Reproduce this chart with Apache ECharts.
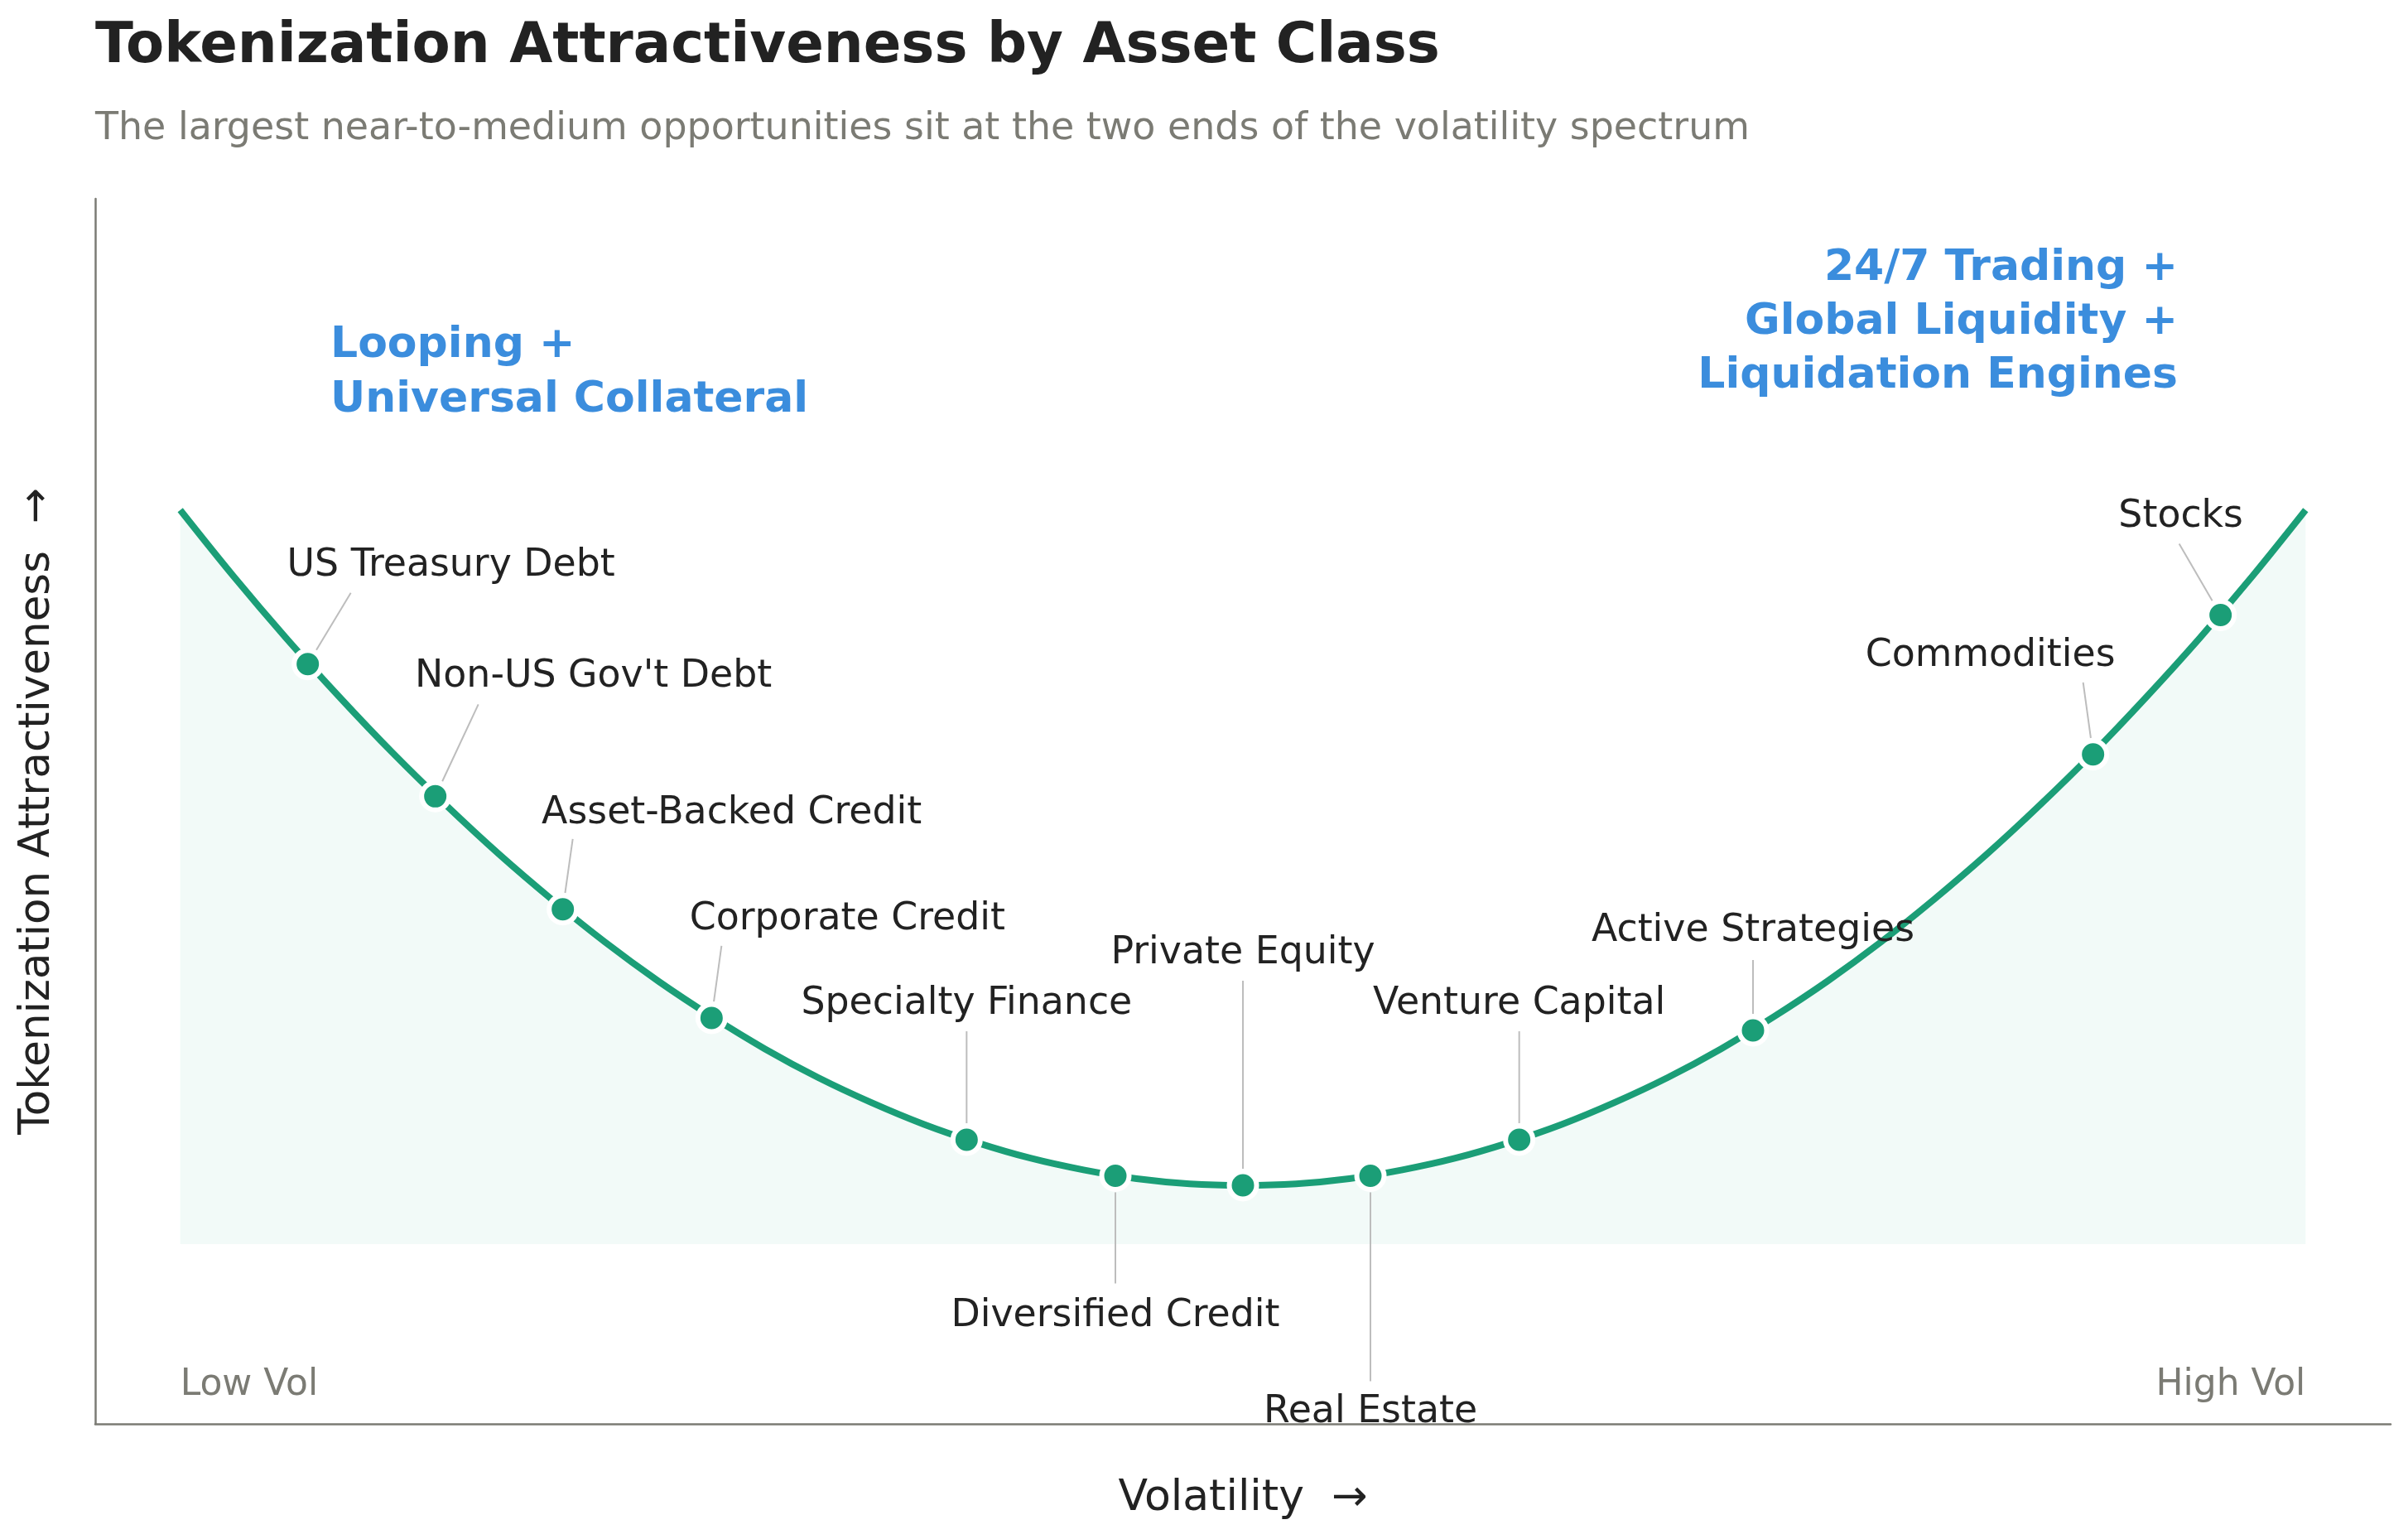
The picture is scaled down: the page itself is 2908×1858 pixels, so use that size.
<!DOCTYPE html>
<html>
<head>
<meta charset="utf-8">
<title>Tokenization Attractiveness by Asset Class</title>
<script src="https://cdn.jsdelivr.net/npm/echarts@6.0.0/dist/echarts.min.js"></script>
<style>
  html, body { margin: 0; padding: 0; background: #fff; }
  #chart { width: 2908px; height: 1858px; }
</style>
</head>
<body>
<div id="chart"></div>
<script>
// asset classes along the volatility spectrum (x 0..1 = low..high vol)
const assetNames = [
  'US Treasury Debt', "Non-US Gov't Debt", 'Asset-Backed Credit', 'Corporate Credit',
  'Specialty Finance', 'Diversified Credit', 'Private Equity', 'Real Estate',
  'Venture Capital', 'Active Strategies', 'Commodities', 'Stocks'
]
const assetVol = [0.06, 0.12, 0.18, 0.25, 0.37, 0.44, 0.50, 0.56, 0.63, 0.74, 0.90, 0.96]
const assetScore = [0.790, 0.610, 0.456, 0.308, 0.142, 0.093, 0.080, 0.093, 0.142, 0.291, 0.667, 0.857]

// the U-shaped curve, every 0.025
const curveVol = [
  0, 0.025, 0.05, 0.075, 0.10, 0.125, 0.15, 0.175, 0.20, 0.225, 0.25, 0.275, 0.30, 0.325,
  0.35, 0.375, 0.40, 0.425, 0.45, 0.475, 0.50, 0.525, 0.55, 0.575, 0.60, 0.625, 0.65, 0.675,
  0.70, 0.725, 0.75, 0.775, 0.80, 0.825, 0.85, 0.875, 0.90, 0.925, 0.95, 0.975, 1.00
]
const curveScore = [
  1.000, 0.910, 0.825, 0.745, 0.669, 0.598, 0.531, 0.469, 0.411, 0.358, 0.310, 0.266, 0.227, 0.193,
  0.163, 0.138, 0.117, 0.101, 0.089, 0.082, 0.080, 0.082, 0.089, 0.101, 0.117, 0.138, 0.163, 0.193,
  0.227, 0.266, 0.310, 0.358, 0.411, 0.469, 0.531, 0.598, 0.669, 0.745, 0.825, 0.910, 1.000
]

const endLabels = ['Low Vol', 'High Vol']
const endVol = [0, 1]

// layout only: [text dx, text dy, leader end dx, leader end dy] in px from the dot
const labelOffsets = [
  [173, -119, 52, -86], [191, -144, 52, -111], [204, -116, 12, -85], [164, -119, 12, -87],
  [0, -164, 0, -131], [0, 170, 0, 130], [0, -280, 0, -247], [0, 286, 0, 248],
  [0, -164, 0, -131], [0, -120, 0, -85], [-124, -119, -12, -87], [-48, -118, -50, -86]
]
const endLabelLevel = -0.193

const FONT = '"DejaVu Sans", sans-serif'
const GREEN = '#1b9e77'
const BLUE = '#3b8ddd'
const GREY = '#7b7b74'

let myChart = echarts.init(document.getElementById('chart'), null, { renderer: 'canvas' })

let option = {
  backgroundColor: '#ffffff',
  animation: false,
  title: [
    {
      text: 'Tokenization Attractiveness by Asset Class',
      left: 115, top: 24, padding: 0,
      textStyle: { fontFamily: FONT, fontSize: 67.3, lineHeight: 67.3, fontWeight: 'bold', color: '#222222' }
    },
    {
      text: 'The largest near-to-medium opportunities sit at the two ends of the volatility spectrum',
      left: 115, top: 133, padding: 0,
      textStyle: { fontFamily: FONT, fontSize: 45.9, lineHeight: 45.9, fontWeight: 'normal', color: GREY }
    }
  ],
  graphic: [
    {
      type: 'text', x: 399, y: 385, z: 10,
      style: {
        text: 'Looping +\nUniversal Collateral',
        fill: BLUE, font: 'bold 52px ' + FONT, lineHeight: 65.5,
        align: 'left', verticalAlign: 'top', textAlign: 'left', textVerticalAlign: 'top'
      }
    },
    {
      type: 'text', x: 2630, y: 292, z: 10,
      style: {
        text: '24/7 Trading +\nGlobal Liquidity +\nLiquidation Engines',
        fill: BLUE, font: 'bold 52px ' + FONT, lineHeight: 65,
        align: 'right', verticalAlign: 'top', textAlign: 'right', textVerticalAlign: 'top'
      }
    }
  ],
  grid: { left: 115, right: 21, top: 240, bottom: 139, containLabel: false },
  xAxis: {
    type: 'value', min: -0.04, max: 1.04,
    name: 'Volatility  \u2192', nameLocation: 'middle', nameGap: 64,
    nameTextStyle: { fontFamily: FONT, fontSize: 52, color: '#222222' },
    axisLine: { show: true, onZero: false, lineStyle: { color: GREY, width: 2.5 } },
    axisTick: { show: false }, axisLabel: { show: false }, splitLine: { show: false }
  },
  yAxis: {
    type: 'value', min: -0.245, max: 1.424,
    name: 'Tokenization Attractiveness  \u2192', nameLocation: 'middle', nameGap: 43, nameRotate: 90,
    nameTextStyle: { fontFamily: FONT, fontSize: 51.5, color: '#222222' },
    axisLine: { show: true, onZero: false, lineStyle: { color: GREY, width: 2.5 } },
    axisTick: { show: false }, axisLabel: { show: false }, splitLine: { show: false }
  },
  series: [
    {
      type: 'line', name: 'curve',
      data: curveVol.map((v, i) => [v, curveScore[i]]),
      smooth: 0.35, symbol: 'none', z: 2,
      lineStyle: { color: GREEN, width: 8 },
      areaStyle: { color: 'rgba(27,158,119,0.08)', origin: 0 }
    },
    {
      type: 'custom', name: 'labels', z: 3,
      data: assetVol.map((v, i) => [v, assetScore[i]]),
      renderItem: function (params, api) {
        const i = params.dataIndex
        const p = api.coord([api.value(0), api.value(1)])
        const o = labelOffsets[i]
        const len = Math.sqrt(o[2] * o[2] + o[3] * o[3])
        const gap = 20
        return {
          type: 'group',
          children: [
            {
              type: 'line',
              shape: { x1: p[0] + o[2] / len * gap, y1: p[1] + o[3] / len * gap, x2: p[0] + o[2], y2: p[1] + o[3] },
              style: { stroke: '#bdbdbd', lineWidth: 2 }
            },
            {
              type: 'text', x: p[0] + o[0], y: p[1] + o[1],
              style: {
                text: assetNames[i], fill: '#222222', font: '45.8px ' + FONT,
                align: 'center', verticalAlign: 'middle', textAlign: 'center', textVerticalAlign: 'middle'
              }
            }
          ]
        }
      }
    },
    {
      type: 'custom', name: 'ends', z: 3,
      data: endVol.map(v => [v, endLabelLevel]),
      renderItem: function (params, api) {
        const p = api.coord([api.value(0), api.value(1)])
        const al = params.dataIndex === 0 ? 'left' : 'right'
        return {
          type: 'text', x: p[0], y: p[1],
          style: {
            text: endLabels[params.dataIndex], fill: GREY, font: '44px ' + FONT,
            align: al, verticalAlign: 'middle', textAlign: al, textVerticalAlign: 'middle'
          }
        }
      }
    },
    {
      type: 'scatter', name: 'assets', z: 4,
      data: assetVol.map((v, i) => [v, assetScore[i]]),
      symbol: 'circle', symbolSize: 33,
      itemStyle: { color: GREEN, borderColor: '#ffffff', borderWidth: 6, opacity: 1 }
    }
  ]
}

option && myChart.setOption(option)
</script>
</body>
</html>
